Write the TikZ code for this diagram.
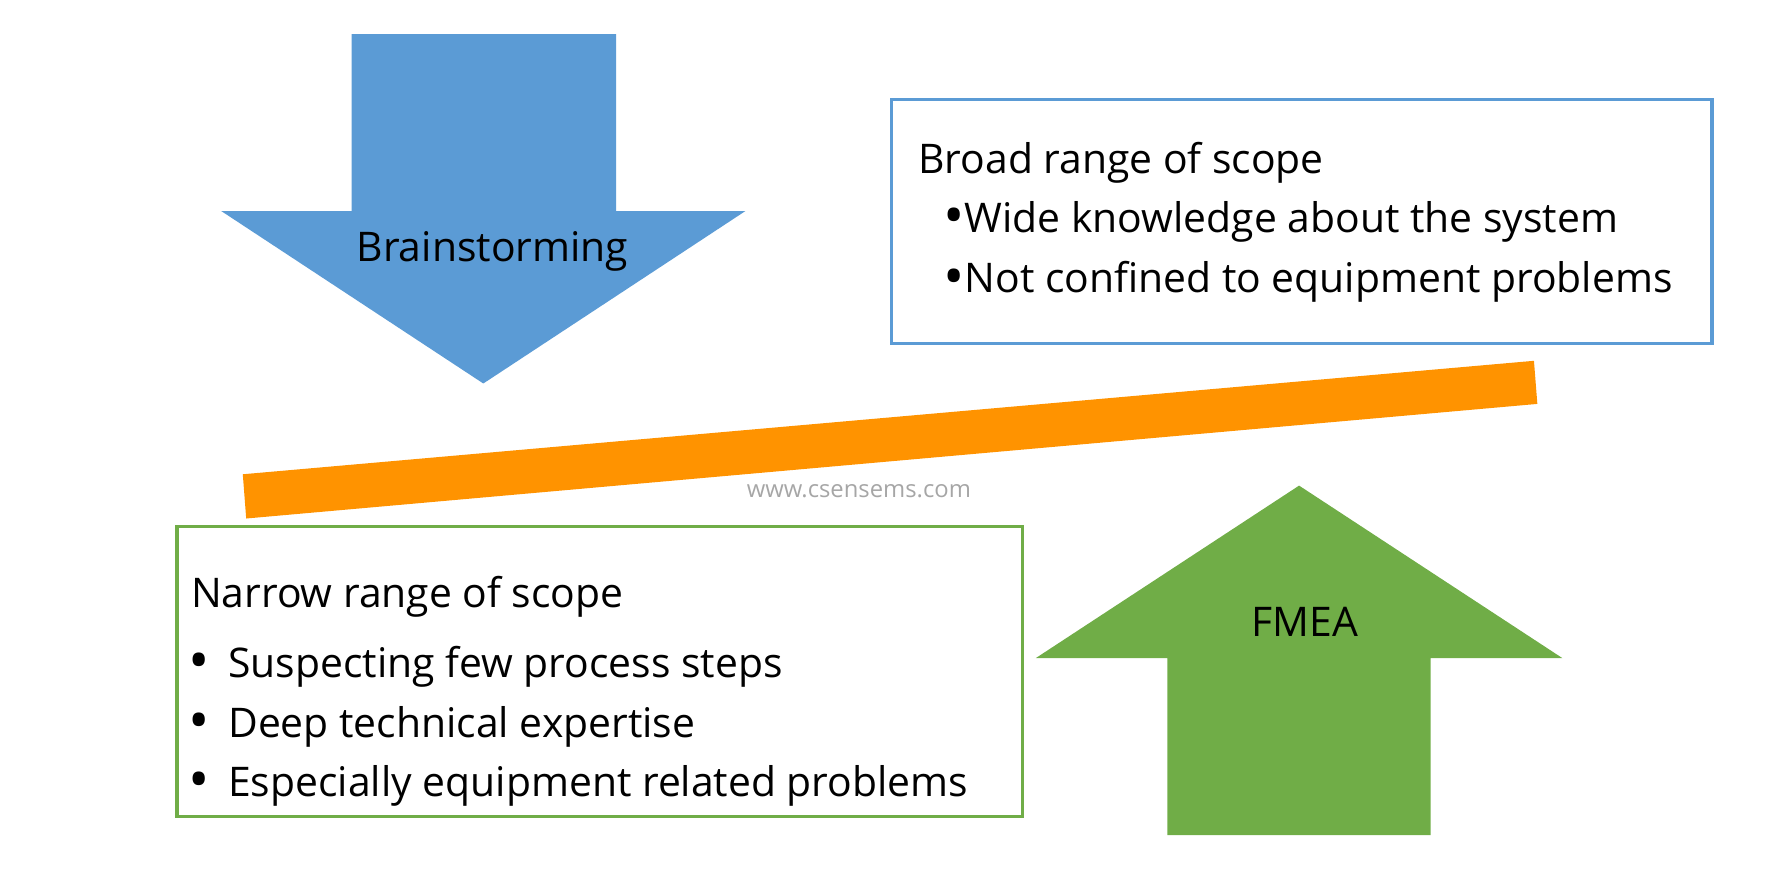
\documentclass[tikz,border=0pt]{standalone}
\usepackage{fontspec}
\setmainfont{Open Sans}
\usetikzlibrary{positioning}
\definecolor{arrowblue}{HTML}{5B9BD5}
\definecolor{arrowgreen}{HTML}{70AD47}
\definecolor{beamorange}{HTML}{FF9300}
\definecolor{markgray}{HTML}{A6A6A6}
\newcommand{\bigdot}{\raisebox{-1.5pt}{\fontsize{25}{25}\selectfont\textbullet}}

\begin{document}
\begin{tikzpicture}[
  x=0.5pt, y=-0.5pt,
  txt/.style={font=\fontsize{18}{22}\selectfont, inner sep=0pt},
  line/.style={txt, anchor=base west},
  scopebox/.style={draw, line width=1.4pt, inner sep=0pt},
  broadbox/.style={scopebox, draw=arrowblue, minimum width=361.5pt, minimum height=107.5pt},
  narrowbox/.style={scopebox, draw=arrowgreen, minimum width=372.5pt, minimum height=128pt},
  sitemark/.style={font=\fontsize{10.5}{12}\selectfont, text=markgray, inner sep=0pt}
]
\useasboundingbox (0,0) rectangle (1568,778);

% brainstorming arrow (down)
\fill[arrowblue] (310,30) -- (543,30) -- (543,186) -- (657,186) -- (426,338)
  -- (195,186) -- (310,186) -- cycle;
\node[txt] (brain) at (434,222) {Brainstorming};

% broad scope box
\node[broadbox] (broad) at (1147.5,195.5) {};
\node[line] (broadhead) at (809,153) {Broad range of scope};
\node[line] (broad1) at (831,205) {\bigdot Wide knowledge about the system};
\node[line] (broad2) at (831,258) {\bigdot Not confined to equipment problems};

% seesaw beam
\fill[beamorange] (214,418) -- (1352,318) -- (1355,356) -- (217,457) -- cycle;
\node[sitemark] (site) at (757,433) {www.csensems.com};

% narrow scope box
\node[narrowbox] (narrow) at (528.5,592) {};
\node[line] (narrowhead) at (168,535) {Narrow range of scope};
\node[line] (narrow1) at (166,597) {\bigdot\hspace{8pt}Suspecting few process steps};
\node[line] (narrow2) at (166,650) {\bigdot\hspace{8pt}Deep technical expertise};
\node[line] (narrow3) at (166,702) {\bigdot\hspace{8pt}Especially equipment related problems};

% fmea arrow (up)
\fill[arrowgreen] (1145,428) -- (1377,580) -- (1261,580) -- (1261,736)
  -- (1029,736) -- (1029,580) -- (913,580) -- cycle;
\node[txt] (fmea) at (1150,548) {FMEA};
\end{tikzpicture}
\end{document}
